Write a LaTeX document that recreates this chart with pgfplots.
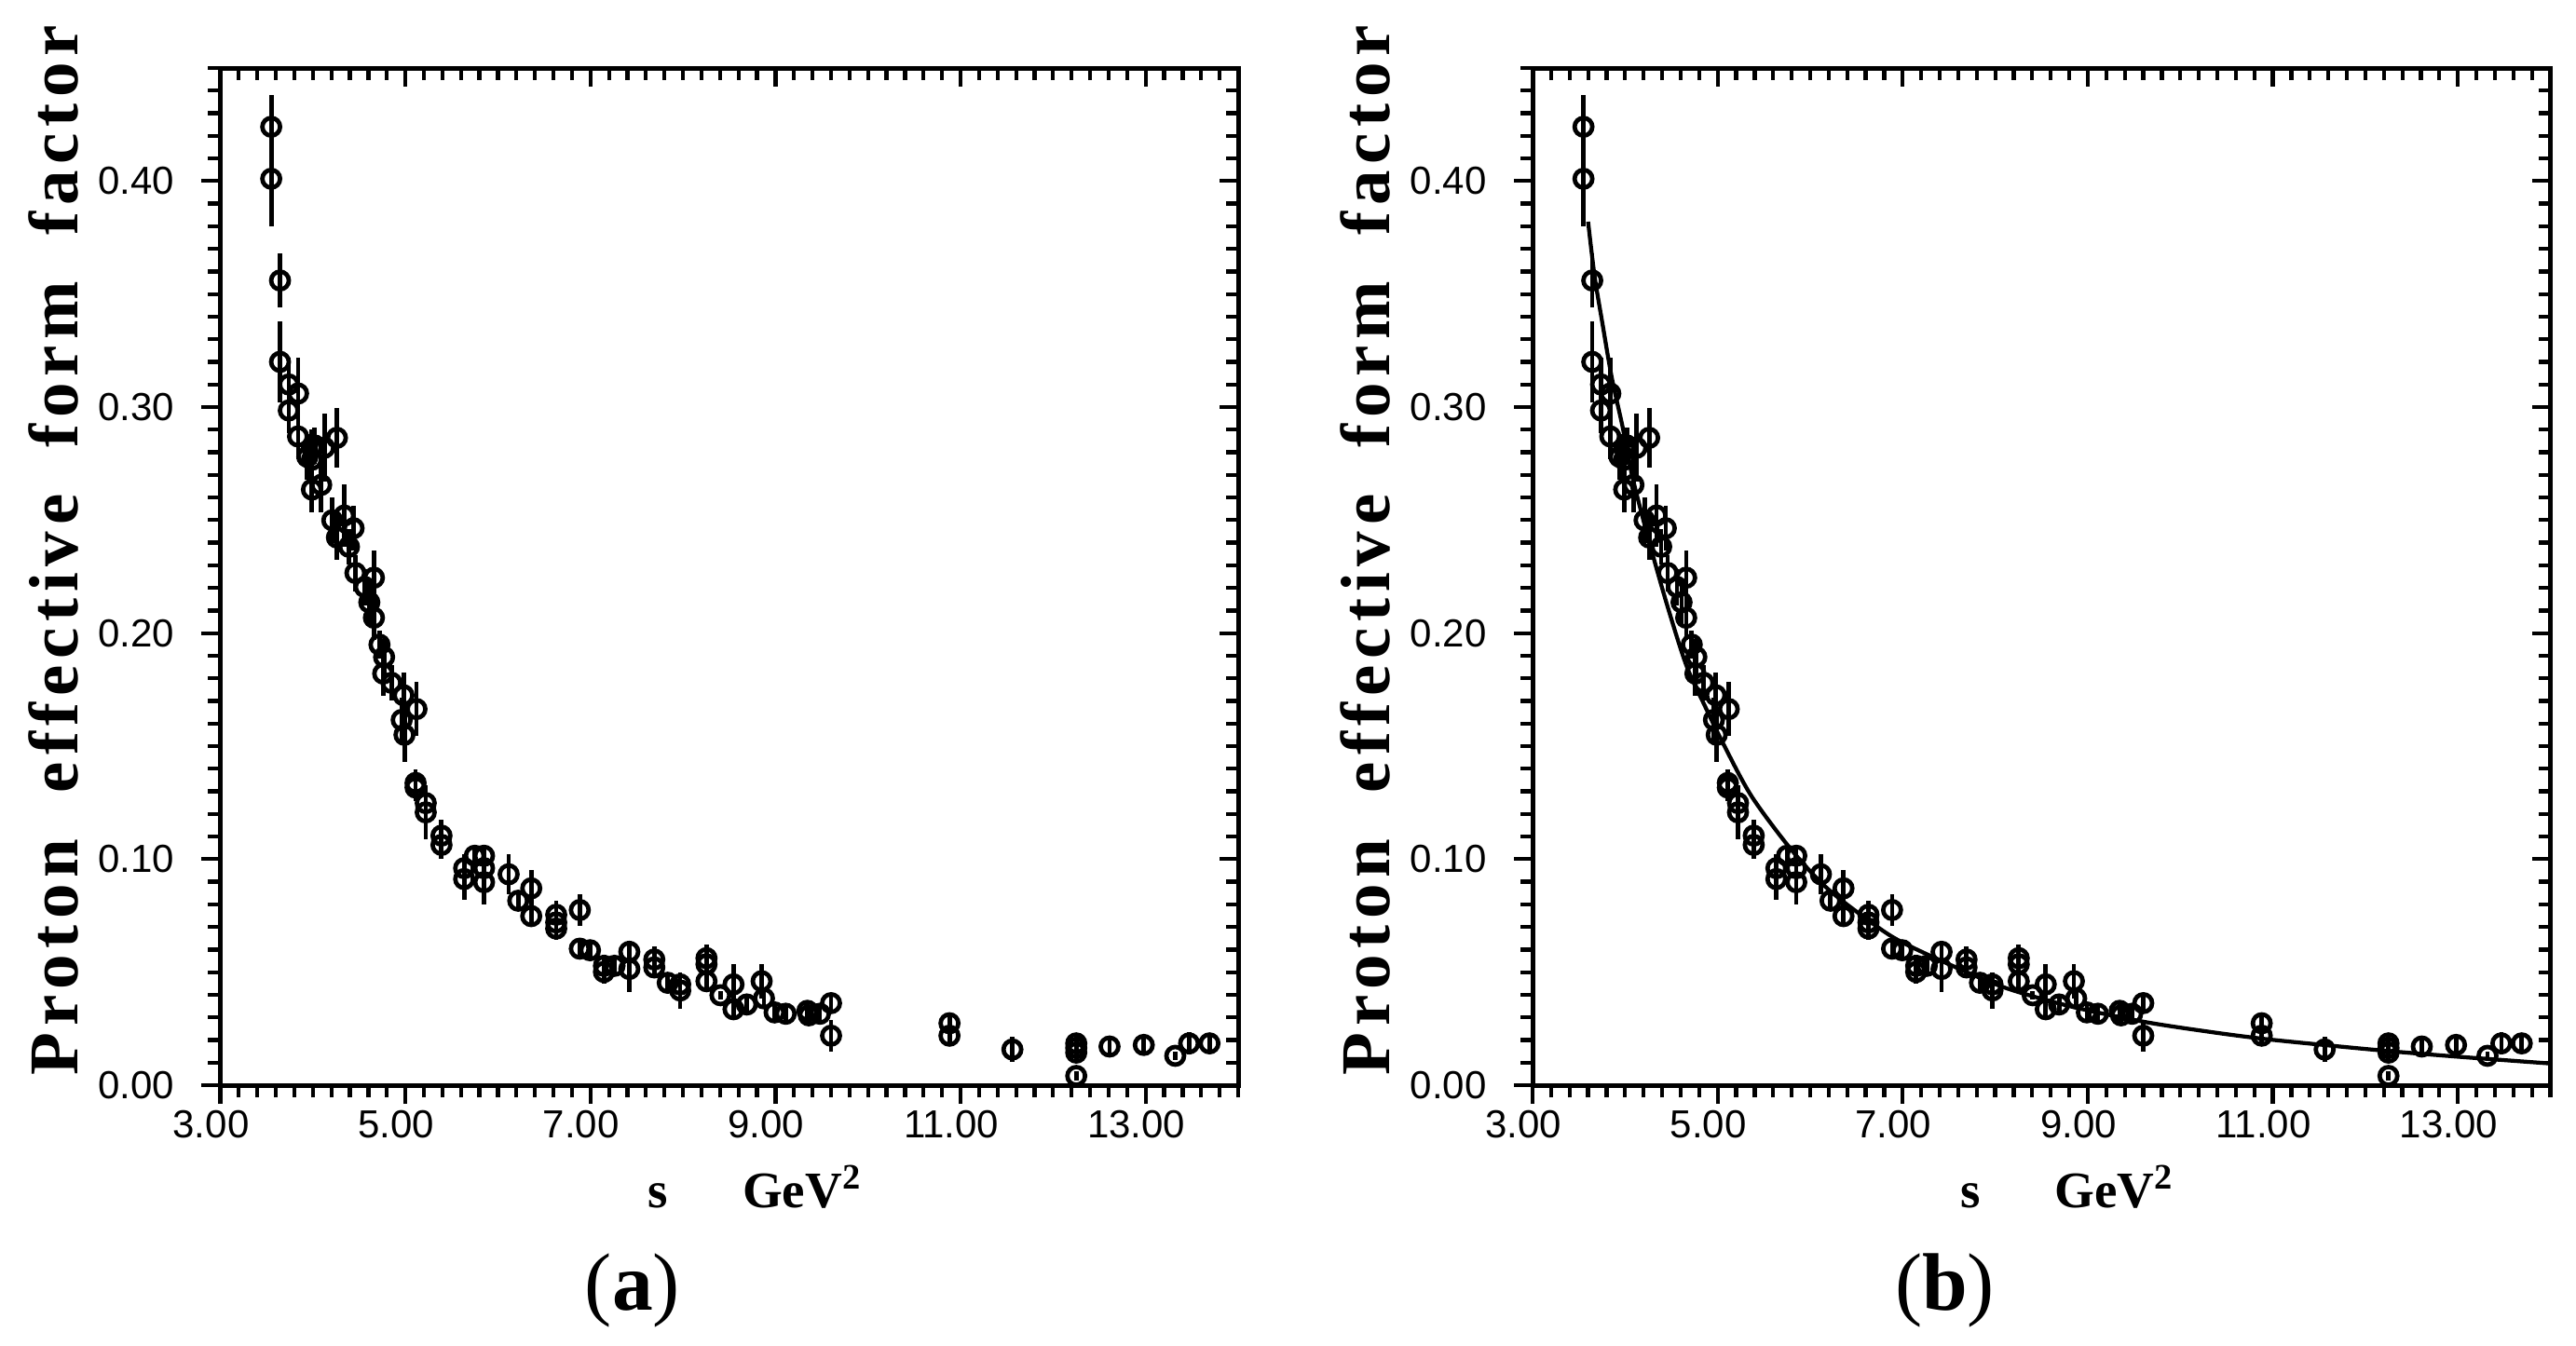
\documentclass[border=0pt]{standalone}
\usepackage{fontspec}
\usepackage{pgfplots}
\usepackage{pgfplotstable}
\pgfplotsset{compat=1.18}
\setmainfont{Liberation Serif}
\newfontfamily\tickfont{Liberation Sans}
\newfontfamily\labfont[LetterSpace=9]{Liberation Serif}

\pgfplotstableread{
x y e
3.55 0.424 0.014
3.55 0.401 0.021
3.645 0.356 0.012
3.645 0.320 0.018
3.74 0.310 0.012
3.84 0.306 0.016
3.74 0.2985 0.010
3.84 0.287 0.010
3.94 0.278 0.010
3.99 0.282 0.008
3.99 0.2767 0.008
4.02 0.283 0.008
4.09 0.2656 0.012
3.99 0.2635 0.010
4.125 0.282 0.015
4.26 0.2864 0.013
4.21 0.2499 0.010
4.34 0.252 0.014
4.44 0.2464 0.010
4.26 0.2423 0.010
4.39 0.2382 0.008
4.46 0.2266 0.008
4.66 0.2245 0.012
4.56 0.2204 0.008
4.61 0.2136 0.010
4.66 0.2068 0.010
4.72 0.1949 0.006
4.77 0.1894 0.008
4.76 0.1821 0.010
4.85 0.178 0.008
4.98 0.1725 0.010
5.12 0.1664 0.012
4.96 0.1616 0.010
4.99 0.155 0.012
5.11 0.1337 0.006
5.11 0.1317 0.006
5.22 0.1248 0.008
5.22 0.1207 0.012
5.39 0.1104 0.007
5.39 0.1063 0.006
5.635 0.096 0.006
5.635 0.0912 0.009
5.75 0.1015 0.004
5.85 0.1015 0.005
5.85 0.096 0.005
5.85 0.0898 0.010
6.116 0.0933 0.009
6.22 0.0816 0.004
6.36 0.0871 0.008
6.36 0.0748 0.004
6.63 0.0754 0.006
6.63 0.072 0.004
6.63 0.0693 0.005
6.885 0.0775 0.007
6.885 0.0604 0.004
6.995 0.0597 0.003
7.146 0.0528 0.005
7.146 0.0501 0.005
7.26 0.0528 0.004
7.42 0.059 0.005
7.42 0.0514 0.010
7.69 0.0556 0.006
7.69 0.0521 0.004
7.835 0.0453 0.004
7.97 0.0446 0.004
7.97 0.0419 0.008
8.254 0.0562 0.006
8.254 0.0535 0.004
8.254 0.046 0.004
8.405 0.0398 0.002
8.546 0.0446 0.009
8.546 0.0336 0.004
8.69 0.0357 0.003
8.85 0.046 0.0075
8.875 0.0384 0.004
8.99 0.0322 0.003
9.11 0.0316 0.003
9.345 0.0329 0.003
9.36 0.0309 0.003
9.48 0.0316 0.003
9.60 0.0363 0.004
9.60 0.0219 0.007
10.88 0.0274 0.004
10.88 0.0219 0.004
11.56 0.0158 0.0055
12.25 0.0185 0.004
12.25 0.0165 0.004
12.25 0.0144 0.004
12.25 0.0041 0.002
12.61 0.0171 0.004
12.98 0.0178 0.004
13.32 0.013 0.002
13.47 0.0185 0.005
13.69 0.0185 0.004
}\ffdata

\pgfplotsset{
  base/.style={scale only axis, width=218.5pt, height=218.4pt,
    xmin=3, xmax=14, ymin=0, ymax=0.45,
    xtick={3,5,7,9,11,13}, ytick={0,0.1,0.2,0.3,0.4},
    minor xtick={3.2,3.4,...,13.9,14},
    minor ytick={0.01,0.02,...,0.445},
    major tick length=4pt, minor tick length=2.6pt,
    tick style={line width=0.85pt, black},
    major tick style={line width=0.85pt, black},
    minor tick style={line width=0.85pt, black},
    axis line style={line width=1pt},
    clip mode=individual,
    anchor=south west},
  bl/.style={base, tick align=outside, xtick pos=left, ytick pos=left,
    /pgf/number format/.cd, fixed, fixed zerofill, precision=2, assume math mode=true,
    /pgfplots/.cd,
    tick label style={font=\tickfont\fontsize{8.4}{10}\selectfont},
    yticklabel style={inner sep=0pt, xshift=-5.7pt},
    xticklabel style={inner sep=0pt, yshift=-1.3pt, xshift=-2pt}},
  tr/.style={base, tick align=inside, xtick pos=right, ytick pos=right,
    xticklabels={}, yticklabels={}},
  dat/.style={only marks, mark=o, mark size=1.9pt, line width=0.95pt,
    mark options={solid, line width=0.95pt},
    error bars/.cd, y dir=both, y explicit, error mark=none,
    error bar style={line width=0.95pt}}
}

\newcommand\ylab{\node[rotate=90, anchor=base west, inner sep=0pt,
   font=\labfont\bfseries\fontsize{15}{18}\selectfont]
   at (axis description cs:-0.1405,0.009)
   {Proton\hspace{10pt}effective\hspace{10pt}form\hspace{10pt}factor};}
\newcommand\xlab{\node[anchor=base west, inner sep=0pt,
   font=\bfseries\fontsize{11}{13}\selectfont]
   at (axis description cs:0.4195,-0.1206)
   {s\hspace{16pt}GeV\textsuperscript{2}};}

\begin{document}
\begin{tikzpicture}
\path[use as bounding box] (0,0) rectangle (553pt,288.8pt);
% panel (a)
\begin{axis}[bl, at={(47.3pt,55.8pt)}]
\addplot[dat] table[x=x, y=y, y error=e] {\ffdata};
\ylab
\xlab
\node[anchor=base, inner sep=0pt, font=\fontsize{17.5}{20}\selectfont]
  at (axis description cs:0.405,-0.2213) {(\textbf{a})};
\end{axis}
\begin{axis}[tr, at={(47.3pt,55.8pt)}]
\end{axis}
% panel (b)
\begin{axis}[bl, at={(329pt,55.8pt)}]
\addplot[dat] table[x=x, y=y, y error=e] {\ffdata};
\addplot[smooth, line width=0.85pt, no marks] coordinates {
(3.60,0.382) (3.67,0.358) (3.755,0.337) (3.856,0.313) (3.974,0.291)
(4.074,0.270) (4.175,0.2535) (4.292,0.2356) (4.46,0.2116) (4.662,0.1857)
(4.863,0.1677) (5.064,0.1508) (5.367,0.1278) (5.8,0.104) (6.2,0.0865)
(6.728,0.070) (7.0,0.0631) (7.5,0.0535) (8.1,0.0432) (8.8,0.035)
(9.6,0.0281) (10.3,0.0237) (10.9,0.0205) (11.6,0.0176) (12.25,0.0151)
(13.0,0.0126) (14.0,0.0096)};
\ylab
\xlab
\node[anchor=base, inner sep=0pt, font=\fontsize{17.5}{20}\selectfont]
  at (axis description cs:0.405,-0.2213) {(\textbf{b})};
\end{axis}
\begin{axis}[tr, at={(329pt,55.8pt)}]
\end{axis}
\end{tikzpicture}
\end{document}
